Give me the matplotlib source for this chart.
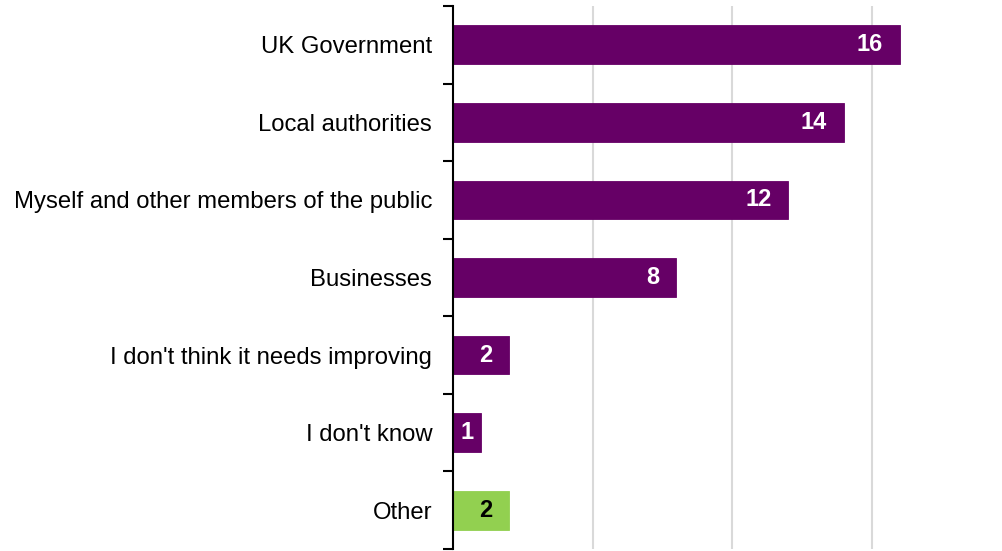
import numpy as np
import matplotlib.pyplot as plt

plt.rcParams['font.family'] = ['Liberation Sans', 'DejaVu Sans']

categories = ["UK Government", "Local authorities", "Myself and other members of the public",
              "Businesses", "I don't think it needs improving", "I don't know", "Other"]
values = [16, 14, 12, 8, 2, 1, 2]
colors = ["#660066"] * 6 + ["#92D050"]
label_colors = ["white"] * 6 + ["black"]

fig = plt.figure(figsize=(10.03, 5.51), dpi=100)
ax = fig.add_axes([0.4517, 0.0036, 0.5483, 0.9855])

y = np.arange(len(categories))
ax.barh(y, values, height=0.5, color=colors, edgecolor=colors, linewidth=0.6, zorder=3)

ax.set_ylim(len(categories) - 0.5, -0.5)
ax.set_xlim(0, 19.7)

# grid
ax.set_xticks([5, 10, 15])
ax.set_xticklabels([])
ax.tick_params(axis='x', length=0)
ax.grid(axis='x', color='#d9d9d9', linewidth=1.5, zorder=0)

# category labels, ticks between categories
ax.set_yticks(y)
ax.set_yticklabels(categories, fontsize=17.2)
ax.tick_params(axis='y', length=0, pad=15)
ax.set_yticks(np.arange(-0.5, len(categories)), minor=True)
ax.tick_params(axis='y', which='minor', length=7, width=1.5, color='black')

for side in ['top', 'right', 'bottom']:
    ax.spines[side].set_visible(False)
ax.spines['left'].set_linewidth(1.5)
ax.spines['left'].set_zorder(4)

# value labels inside bar ends
for yi, v, c in zip(y, values, label_colors):
    if v < 1.5:
        ax.text(v / 2, yi, str(v), ha='center', va='center', color=c,
                fontsize=17, fontweight='bold', zorder=5)
    else:
        ax.annotate(str(v), (v, yi), xytext=(-12, 0), textcoords='offset points',
                    ha='right', va='center', color=c, fontsize=17,
                    fontweight='bold', zorder=5)

fig.savefig("out.png", dpi=100)
